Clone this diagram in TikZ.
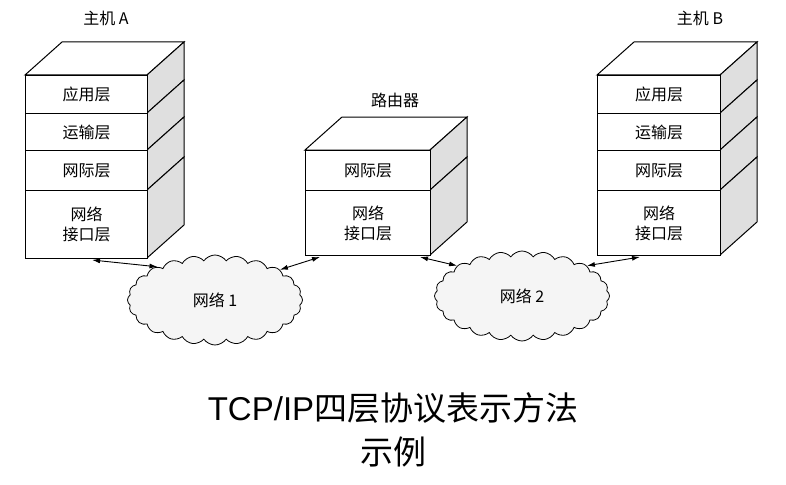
\documentclass[tikz,border=0pt]{standalone}
\usepackage{fontspec}
\setmainfont{Liberation Serif}
\newfontfamily\cjk{Noto Sans CJK SC}
\usetikzlibrary{shapes.symbols,arrows.meta}
\begin{document}
\begin{tikzpicture}[x=1pt,y=-1pt,
  lay/.style={draw,line width=1pt,fill=white,font=\cjk\fontsize{16}{20}\selectfont,align=center,inner sep=0pt},
  side/.style={draw,line width=1pt,fill=gray!25},
  top/.style={draw,line width=1pt,fill=white},
  lbl/.style={font=\cjk\fontsize{16}{18}\selectfont},
  arr/.style={{Latex[length=8pt,width=5pt]}-{Latex[length=8pt,width=5pt]},line width=0.9pt},
  cl/.style={cloud,cloud puffs=24,cloud puff arc=110,draw,line width=0.8pt,aspect=2.1,inner sep=0pt,font=\cjk\fontsize{16}{18}\selectfont,fill=gray!8}]
\useasboundingbox (0,0) rectangle (786,484);
% Host A
\def\d{37}\def\h{33}
\draw[top] (25,75)--(25+\d,75-\h)--(147+\d,75-\h)--(147,75)--cycle;
\foreach \a/\b in {75/113,113/150,150/190,190/258}
  \draw[side] (147,\a)--(147+\d,\a-\h)--(147+\d,\b-\h)--(147,\b)--cycle;
\node[lay,minimum width=122,minimum height=38,anchor=north west] (a1) at (25,75) {应用层};
\node[lay,minimum width=122,minimum height=37,anchor=north west] (a2) at (25,113) {运输层};
\node[lay,minimum width=122,minimum height=40,anchor=north west] (a3) at (25,150) {网际层};
\node[lay,minimum width=122,minimum height=68,anchor=north west] (a4) at (25,190) {网络\\接口层};
\node[lbl] (la) at (106,18) {主机 A};
% Router
\def\rx{305}\def\rw{125}
\draw[top] (\rx,150)--(\rx+\d,150-\h)--(\rx+\rw+\d,150-\h)--(\rx+\rw,150)--cycle;
\foreach \a/\b in {150/190,190/255}
  \draw[side] (\rx+\rw,\a)--(\rx+\rw+\d,\a-\h)--(\rx+\rw+\d,\b-\h)--(\rx+\rw,\b)--cycle;
\node[lay,minimum width=125,minimum height=40,anchor=north west] (r1) at (\rx,150) {网际层};
\node[lay,minimum width=125,minimum height=65,anchor=north west] (r2) at (\rx,190) {网络\\接口层};
\node[lbl] (lr) at (395,100) {路由器};
% Host B
\def\bx{597}\def\bw{123}
\draw[top] (\bx,75)--(\bx+\d,75-\h)--(\bx+\bw+\d,75-\h)--(\bx+\bw,75)--cycle;
\foreach \a/\b in {75/113,113/150,150/190,190/255}
  \draw[side] (\bx+\bw,\a)--(\bx+\bw+\d,\a-\h)--(\bx+\bw+\d,\b-\h)--(\bx+\bw,\b)--cycle;
\node[lay,minimum width=123,minimum height=38,anchor=north west] (b1) at (\bx,75) {应用层};
\node[lay,minimum width=123,minimum height=37,anchor=north west] (b2) at (\bx,113) {运输层};
\node[lay,minimum width=123,minimum height=40,anchor=north west] (b3) at (\bx,150) {网际层};
\node[lay,minimum width=123,minimum height=65,anchor=north west] (b4) at (\bx,190) {网络\\接口层};
\node[lbl] (lb) at (700,18) {主机 B};
% clouds
\node[cl,minimum width=175,minimum height=90] (n1) at (215,300) {网络 1};
\node[cl,minimum width=175,minimum height=90] (n2) at (522,296) {网络 2};
\coordinate (pa) at (92,260);
\coordinate (pr1) at (320,257);
\coordinate (pr2) at (420,257);
\coordinate (pb) at (640,257);
\draw[arr] (pa)--(n1.150);
\draw[arr] (n1.25)--(pr1);
\draw[arr] (pr2)--(n2.155);
\draw[arr] (n2.25)--(pb);
\node[font=\fontspec{Liberation Sans}\fontsize{33}{44}\selectfont,align=center] (t) at (393,430) {TCP/IP{\cjk 四层协议表示方法}\\{\cjk 示例}};
\end{tikzpicture}
\end{document}
